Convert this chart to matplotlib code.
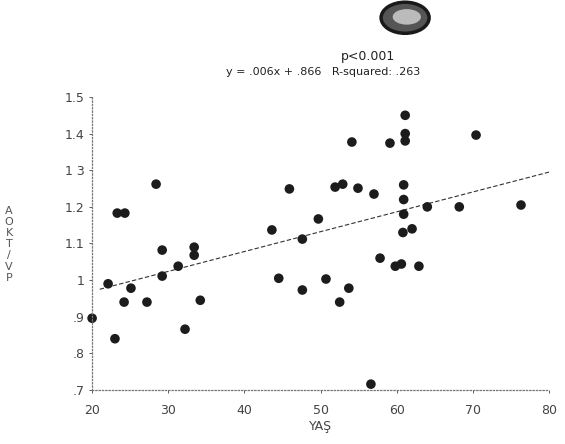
import matplotlib.pyplot as plt
from matplotlib.patches import Ellipse

# YAS (age) vs AOKT/VP
yas = [20.0, 22.1, 23.0, 23.3, 24.3, 24.2, 25.1, 27.2, 28.4, 29.2,
       29.2, 31.3, 32.2, 33.4, 33.4, 34.2, 43.6, 44.5, 45.9, 47.6,
       47.6, 49.7, 50.7, 51.9, 52.9, 52.5, 53.7, 54.1, 54.9, 56.6,
       57.0, 57.8, 59.1, 59.8, 60.6, 61.1, 61.1, 61.1, 60.9, 60.9,
       60.9, 60.8, 62.0, 62.9, 64.0, 68.2, 70.4, 76.3]
aokt = [0.896, 0.99, 0.84, 1.183, 1.183, 0.94, 0.978, 0.94, 1.262, 1.082,
        1.011, 1.038, 0.866, 1.09, 1.068, 0.945, 1.137, 1.005, 1.249, 1.112,
        0.973, 1.167, 1.003, 1.254, 1.262, 0.94, 0.978, 1.377, 1.251, 0.716,
        1.235, 1.06, 1.374, 1.038, 1.044, 1.45, 1.40, 1.38, 1.26, 1.22,
        1.18, 1.13, 1.14, 1.038, 1.2, 1.2, 1.396, 1.205]

# fitted line as drawn on the chart
line_x = [21, 80]
line_y = [0.975, 1.295]

xticks = [20, 30, 40, 50, 60, 70, 80]
yticks = [0.7, 0.8, 0.9, 1.0, 1.1, 1.2, 1.3, 1.4, 1.5]
ytick_labels = ['.7', '.8', '.9', '1', '1.1', '1.2', '1 3', '1.4', '1.5']

fig = plt.figure(figsize=(5.65, 4.44), dpi=100)
ax = fig.add_axes([0.163, 0.1216, 0.809, 0.66])

ax.plot(line_x, line_y, color='#333333', lw=0.8, linestyle=(0, (4, 2)), zorder=1)
ax.scatter(yas, aokt, s=48, color='#1c1c1c', edgecolors='none', zorder=2, clip_on=False)

ax.set_xlim(20, 80)
ax.set_ylim(0.7, 1.5)
ax.set_xticks(xticks)
ax.set_yticks(yticks)
ax.set_yticklabels(ytick_labels)
ax.tick_params(labelsize=9, colors='#444444', length=2, width=0.6)
ax.tick_params(axis='x', pad=8)

for s in ['top', 'right']:
    ax.spines[s].set_visible(False)
for s in ['left', 'bottom']:
    ax.spines[s].set_linestyle(':')
    ax.spines[s].set_color('#777777')
    ax.spines[s].set_linewidth(0.9)

ax.set_xlabel('YAŞ', fontsize=9, color='#444444', labelpad=2)

# stacked vertical y label
fig.text(0.016, 0.45, 'A\nO\nK\nT\n/\nV\nP', fontsize=8, color='#555555',
         ha='center', va='center', linespacing=1.15)

fig.text(0.651, 0.865, 'p<0.001', fontsize=9, color='#222222', ha='center')
fig.text(0.572, 0.83, 'y = .006x + .866   R-squared: .263', fontsize=8,
         color='#222222', ha='center')

# blob at the top of the scan
fig.patches.append(Ellipse((0.717, 0.96), 0.085, 0.07, transform=fig.transFigure,
                           facecolor='#555555', edgecolor='#1a1a1a', lw=2.5))
fig.patches.append(Ellipse((0.72, 0.962), 0.05, 0.035, transform=fig.transFigure,
                           facecolor='#bbbbbb', edgecolor='none'))

fig.savefig('out.png', dpi=100)
